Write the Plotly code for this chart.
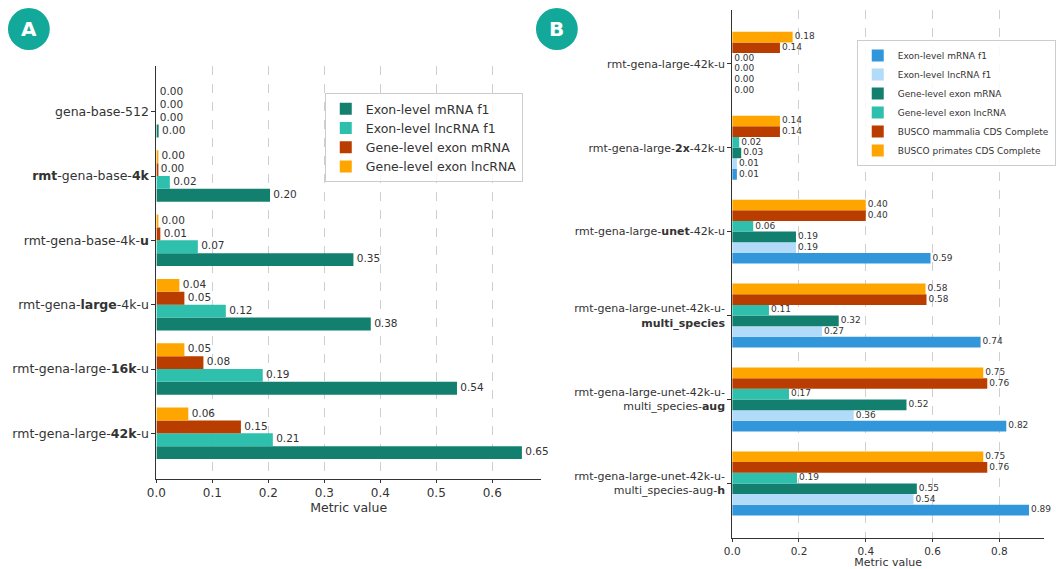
import plotly.graph_objects as go

W, H = 1056, 569

# ---------------- Panel A data ----------------
cats_a = [
    "gena-base-512",
    "<b>rmt</b>-gena-base-<b>4k</b>",
    "rmt-gena-base-4k-<b>u</b>",
    "rmt-gena-<b>large</b>-4k-u",
    "rmt-gena-large-<b>16k</b>-u",
    "rmt-gena-large-<b>42k</b>-u",
]
a_exon_mrna = [0.004, 0.203, 0.352, 0.383, 0.537, 0.653]
a_exon_lnc = [0.0, 0.024, 0.074, 0.124, 0.190, 0.208]
a_gene_mrna = [0.0, 0.002, 0.007, 0.050, 0.084, 0.151]
a_gene_lnc = [0.0, 0.003, 0.003, 0.041, 0.050, 0.057]

# ---------------- Panel B data ----------------
cats_b = [
    "rmt-gena-large-42k-u",
    "rmt-gena-large-<b>2x</b>-42k-u",
    "rmt-gena-large-<b>unet</b>-42k-u",
    "rmt-gena-large-unet-42k-u-<br><b>multi_species</b>",
    "rmt-gena-large-unet-42k-u-<br>multi_species-<b>aug</b>",
    "rmt-gena-large-unet-42k-u-<br>multi_species-aug-<b>h</b>",
]
b_exon_mrna = [0.0, 0.014, 0.594, 0.744, 0.821, 0.889]
b_exon_lnc = [0.0, 0.014, 0.191, 0.269, 0.364, 0.543]
b_gene_mrna = [0.0, 0.027, 0.191, 0.319, 0.522, 0.553]
b_gene_lnc = [0.0, 0.021, 0.063, 0.110, 0.170, 0.194]
b_busco_mamm = [0.143, 0.143, 0.400, 0.582, 0.764, 0.764]
b_busco_prim = [0.181, 0.143, 0.400, 0.579, 0.752, 0.752]

C_DTEAL = "#13806f"
C_TEAL = "#2ebfad"
C_RED = "#ba3d00"
C_ORANGE = "#ffa500"
C_BLUE = "#3296db"
C_LBLUE = "#b2dbfa"
TXT = "#333333"
FONT = "DejaVu Sans"

fig = go.Figure()


def add_panel(series, cats, xa, ya, legend, h, pad, fsize):
    # series: list of (name, values, color, slot) ; slot 0 = top bar in group
    n_slots = len(series)
    for name, vals, color, slot in series:
        off = -n_slots * h / 2 + slot * h
        idx = list(range(len(cats)))
        fig.add_trace(go.Bar(
            orientation="h", x=vals, y=idx, width=h, offset=off,
            marker=dict(color=color, line=dict(width=0)), name=name,
            xaxis=xa, yaxis=ya, legend=legend,
        ))
    for name, vals, color, slot in series:
        off = -n_slots * h / 2 + slot * h
        fig.add_trace(go.Scatter(
            x=[v + pad for v in vals],
            y=[i + off + h / 2 for i in range(len(cats))],
            mode="text", text=["%.2f" % v for v in vals],
            textposition="middle right",
            textfont=dict(family=FONT, size=fsize, color=TXT),
            showlegend=False, hoverinfo="skip", cliponaxis=False,
            xaxis=xa, yaxis=ya,
        ))


series_a = [
    ("Exon-level mRNA f1", a_exon_mrna, C_DTEAL, 3),
    ("Exon-level lncRNA f1", a_exon_lnc, C_TEAL, 2),
    ("Gene-level exon mRNA", a_gene_mrna, C_RED, 1),
    ("Gene-level exon lncRNA", a_gene_lnc, C_ORANGE, 0),
]
add_panel(series_a, cats_a, "x", "y", "legend", 0.2, 0.006, 10.5)

series_b = [
    ("Exon-level mRNA f1", b_exon_mrna, C_BLUE, 5),
    ("Exon-level lncRNA f1", b_exon_lnc, C_LBLUE, 4),
    ("Gene-level exon mRNA", b_gene_mrna, C_DTEAL, 3),
    ("Gene-level exon lncRNA", b_gene_lnc, C_TEAL, 2),
    ("BUSCO mammalia CDS Complete", b_busco_mamm, C_RED, 1),
    ("BUSCO primates CDS Complete", b_busco_prim, C_ORANGE, 0),
]
add_panel(series_b, cats_b, "x2", "y2", "legend2", 0.127, 0.006, 9)


def px_x(p):
    return p / W


def px_y(p):
    return 1 - p / H


xcommon = dict(
    showline=True, linecolor=TXT, linewidth=1, ticks="outside", ticklen=3,
    tickcolor=TXT, showgrid=True, gridcolor="#cfcfcf", griddash="dash",
    gridwidth=1, zeroline=False, mirror=False, automargin=False,
)
ycommon = dict(
    showline=True, linecolor=TXT, linewidth=1, ticks="outside", ticklen=4,
    tickcolor=TXT, showgrid=False, zeroline=False, mirror=False, automargin=False,
)

fig.update_layout(
    width=W, height=H,
    margin=dict(l=0, r=0, t=0, b=0),
    paper_bgcolor="white", plot_bgcolor="white",
    font=dict(family=FONT, color=TXT),
    barmode="overlay",
    xaxis=dict(
        domain=[px_x(157), px_x(543)], range=[0, 0.687], anchor="y",
        tickvals=[0, 0.1, 0.2, 0.3, 0.4, 0.5, 0.6],
        ticktext=["0.0", "0.1", "0.2", "0.3", "0.4", "0.5", "0.6"],
        tickfont=dict(size=12, family=FONT, color=TXT),
        title=dict(text="Metric value", font=dict(size=12.5, family=FONT, color=TXT), standoff=0),
        **xcommon,
    ),
    yaxis=dict(
        domain=[px_y(479), px_y(66)], range=[len(cats_a) - 1 + 0.71, -0.71],
        anchor="x", tickvals=list(range(len(cats_a))), ticktext=cats_a,
        tickfont=dict(size=12.5, family=FONT, color=TXT),
        **ycommon,
    ),
    xaxis2=dict(
        domain=[px_x(735), px_x(1048)], range=[0, 0.934], anchor="y2",
        tickvals=[0, 0.2, 0.4, 0.6, 0.8],
        ticktext=["0.0", "0.2", "0.4", "0.6", "0.8"],
        tickfont=dict(size=10.5, family=FONT, color=TXT),
        title=dict(text="Metric value", font=dict(size=11, family=FONT, color=TXT), standoff=0),
        **xcommon,
    ),
    yaxis2=dict(
        domain=[px_y(538), px_y(10)], range=[len(cats_b) - 1 + 0.65, -0.64],
        anchor="x2", tickvals=list(range(len(cats_b))), ticktext=cats_b,
        tickfont=dict(size=11, family=FONT, color=TXT),
        **ycommon,
    ),
    legend=dict(
        x=px_x(326), y=px_y(93), xanchor="left", yanchor="top",
        bgcolor="rgba(255,255,255,0.85)", bordercolor="#cccccc", borderwidth=1,
        font=dict(size=12.5, family=FONT, color=TXT), tracegroupgap=0,
        traceorder="normal",
    ),
    legend2=dict(
        x=px_x(860), y=px_y(40), xanchor="left", yanchor="top",
        bgcolor="rgba(255,255,255,0.85)", bordercolor="#cccccc", borderwidth=1,
        font=dict(size=9, family=FONT, color=TXT), tracegroupgap=0,
        traceorder="normal",
    ),
    showlegend=True,
)

# panel badges
for letter, cx, cy in [("A", 29, 29), ("B", 559, 29)]:
    r = 21
    fig.add_shape(
        type="circle", xref="paper", yref="paper",
        x0=px_x(cx - r), x1=px_x(cx + r), y0=px_y(cy + r), y1=px_y(cy - r),
        fillcolor="#12a89a", line=dict(width=0),
    )
    fig.add_annotation(
        x=px_x(cx), y=px_y(cy), xref="paper", yref="paper", text="<b>%s</b>" % letter,
        showarrow=False, font=dict(size=20, color="white", family=FONT),
        xanchor="center", yanchor="middle",
    )

fig.write_html("out.html")
